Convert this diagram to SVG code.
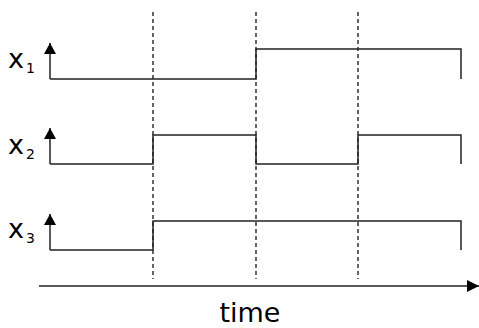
<svg xmlns="http://www.w3.org/2000/svg" width="479" height="328" viewBox="0 0 479 328">
<defs>
<marker id="ah" viewBox="0 0 11 12" refX="11" refY="6" markerWidth="11" markerHeight="12" markerUnits="userSpaceOnUse" orient="auto">
<path d="M0,0 L11,6 L0,12 Z" fill="#000"/>
</marker>
<marker id="th" viewBox="0 0 12 12" refX="12" refY="6" markerWidth="12" markerHeight="12" markerUnits="userSpaceOnUse" orient="auto">
<path d="M0,0 L12,6 L0,12 Z" fill="#000"/>
</marker>
</defs>
<style>
.sig{fill:none;stroke:#222;stroke-width:1.5}
.ax{fill:none;stroke:#222;stroke-width:1.5}
.dash{fill:none;stroke:#111;stroke-width:1.3;stroke-dasharray:4,3}
.lbl{font-family:"DejaVu Sans",sans-serif;font-size:27px;fill:#000}
.sub{font-family:"DejaVu Sans",sans-serif;font-size:14px;fill:#000}
.tm{font-family:"DejaVu Sans",sans-serif;font-size:27px;fill:#000}
</style>
<g id="grid">
<line class="dash" x1="153" y1="12" x2="153" y2="279"/>
<line class="dash" x1="256" y1="12" x2="256" y2="279"/>
<line class="dash" x1="358" y1="12" x2="358" y2="279"/>
</g>
<g id="time-axis">
<line class="ax" x1="39" y1="286" x2="479" y2="286" marker-end="url(#th)"/>
<text class="tm" x="250" y="322" text-anchor="middle">time</text>
</g>
<g id="x1">
<text class="lbl" x="8" y="68">x</text><text class="sub" x="26" y="73">1</text>
<line class="ax" x1="50" y1="79" x2="50" y2="43" marker-end="url(#ah)"/>
<polyline class="sig" points="50,79 256,79 256,49 461,49 461,79"/>
</g>
<g id="x2">
<text class="lbl" x="8" y="154">x</text><text class="sub" x="26" y="159">2</text>
<line class="ax" x1="50" y1="164" x2="50" y2="128" marker-end="url(#ah)"/>
<polyline class="sig" points="50,164 153,164 153,135 256,135 256,164 358,164 358,135 461,135 461,164"/>
</g>
<g id="x3">
<text class="lbl" x="8" y="238">x</text><text class="sub" x="26" y="243">3</text>
<line class="ax" x1="50" y1="250" x2="50" y2="214" marker-end="url(#ah)"/>
<polyline class="sig" points="50,250 153,250 153,221 461,221 461,250"/>
</g>
</svg>
